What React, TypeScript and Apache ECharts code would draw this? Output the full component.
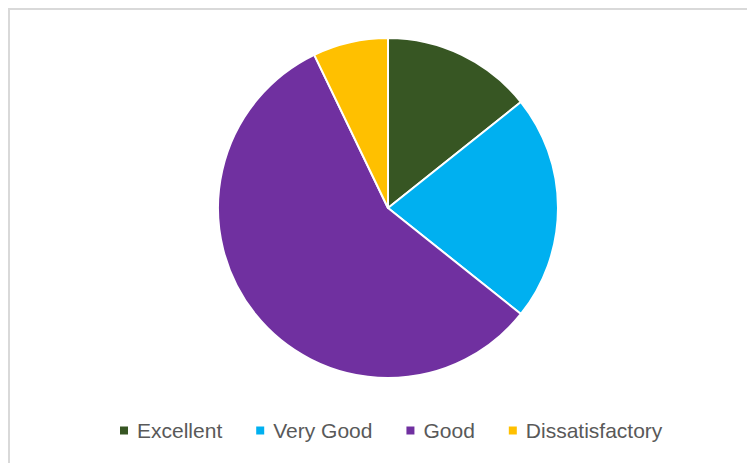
import React, { useEffect, useRef } from "react";
import * as echarts from "echarts";

const categories = ["Excellent", "Very Good", "Good", "Dissatisfactory"];
const values = [2, 3, 8, 1];
const colors = ["#375623", "#00B0F0", "#7030A0", "#FFC000"];

export default function App() {
  const ref = useRef<HTMLDivElement>(null);
  useEffect(() => {
    document.body.style.overflow = "hidden";
    const chart = echarts.init(ref.current!, null, { renderer: "svg" });
    chart.setOption({
      animation: false,
      color: colors,
      legend: {
        data: categories,
        left: 103,
        top: 405,
        icon: "rect",
        itemWidth: 10,
        itemHeight: 10,
        itemGap: 32,
        textStyle: {
          fontFamily: "Liberation Sans, Arial, sans-serif",
          fontSize: 21,
          color: "#595959",
          padding: [0, 0, 0, 3],
        },
      },
      series: [
        {
          type: "pie",
          center: [378, 198],
          radius: 170,
          startAngle: 90,
          clockwise: true,
          label: { show: false },
          labelLine: { show: false },
          emphasis: { disabled: true },
          itemStyle: { borderColor: "#ffffff", borderWidth: 2 },
          data: categories.map((c, i) => ({ name: c, value: values[i] })),
        },
      ],
    });
    return () => chart.dispose();
  }, []);
  return (
    <div
      ref={ref}
      style={{ width: 780, height: 480, border: "2px solid #d9d9d9", boxSizing: "content-box" }}
    />
  );
}
